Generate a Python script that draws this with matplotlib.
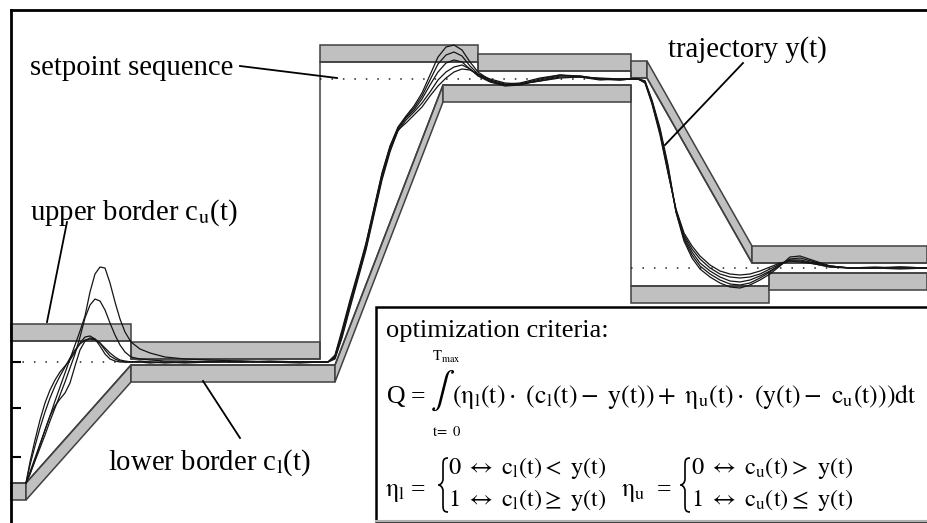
import matplotlib.pyplot as plt
from matplotlib.patches import Rectangle, PathPatch
from matplotlib.path import Path

plt.rcParams['font.family'] = ['Liberation Serif', 'DejaVu Serif']
plt.rcParams['mathtext.fontset'] = 'stix'
plt.rcParams['mathtext.default'] = 'rm'

# tolerance borders: breakpoints (time, level); repeated times are steps
upper_t = [11, 131, 131, 320, 320, 478, 478, 631, 631, 647, 752, 927]
upper_c = [341, 341, 359, 359, 62, 62, 71, 71, 78, 78, 263, 263]
lower_t = [11, 26, 131, 335, 443, 631, 631, 769, 769, 927]
lower_c = [483, 483, 365, 365, 85, 85, 286, 286, 273, 273]

# setpoint sequence
setpoint_start = [11, 320, 631]
setpoint_end = [320, 631, 927]
setpoint_level = [362, 79, 268]

tick_levels = [362, 408, 457]

# sampled trajectories y(t) of five optimisation runs
t = [26, 30, 35, 40, 45, 50, 55, 60, 65, 70, 75, 80, 85, 90, 95, 100, 105, 110,
     115, 120, 125, 131, 140, 150, 165, 185, 210, 240, 270, 300, 320,
     328, 335, 342, 350, 358, 366, 374, 382, 390, 398, 406, 414, 422, 430, 438,
     446, 454, 462, 470, 478, 490, 505, 520, 540, 560, 580, 600, 620, 631,
     638, 645, 652, 660, 668, 676, 684, 692, 700, 710, 720, 730, 740, 750, 760,
     770, 780, 790, 800, 815, 830, 850, 875, 900, 927]
y_run1 = [483, 472, 458, 444, 430, 416, 401, 387, 373, 359, 345, 331, 316, 292, 274, 267, 268, 283,
          302, 319, 332, 342, 349, 353, 357, 359, 360, 361, 362, 362, 362,
          362, 355, 330, 300, 272, 243, 208, 173, 146, 127, 116, 106, 93, 75, 57,
          47, 45, 50, 62, 72, 80, 84, 83, 78, 75, 76, 79, 80, 79,
          79, 81, 100, 128, 165, 212, 241, 258, 269, 277, 283, 287, 288, 285, 280,
          274, 266, 257, 256, 261, 266, 268, 268, 267, 268]
y_run2 = [483, 474, 461, 448, 435, 421, 408, 395, 382, 368, 354, 337, 318, 305, 299, 301, 310, 323,
          335, 345, 352, 357, 359, 360, 361, 361, 362, 362, 362, 362, 362,
          362, 356, 332, 302, 274, 244, 209, 174, 147, 128, 117, 108, 96, 80, 64,
          55, 52, 56, 66, 74, 81, 85, 84, 79, 75, 77, 80, 79, 79,
          79, 81, 101, 130, 167, 212, 239, 255, 266, 274, 280, 284, 285, 283, 278,
          272, 265, 259, 258, 262, 266, 268, 268, 268, 268]
y_run3 = [483, 462, 440, 420, 403, 390, 380, 372, 366, 360, 352, 343, 337, 336, 339, 346, 354, 359,
          361, 362, 362, 362, 362, 362, 363, 362, 362, 361, 362, 362, 362,
          362, 357, 334, 304, 275, 246, 211, 176, 148, 129, 118, 110, 99, 85, 72,
          63, 60, 62, 69, 76, 82, 86, 85, 80, 76, 76, 79, 80, 79,
          79, 82, 102, 131, 170, 211, 237, 252, 263, 271, 277, 281, 282, 280, 276,
          271, 265, 260, 260, 263, 266, 268, 267, 268, 268]
y_run4 = [483, 465, 446, 428, 412, 398, 386, 376, 367, 358, 350, 344, 340, 339, 340, 343, 348, 353,
          357, 360, 361, 362, 361, 362, 362, 363, 362, 362, 361, 362, 362,
          362, 358, 336, 306, 277, 248, 213, 178, 150, 131, 120, 112, 103, 92, 80,
          72, 67, 65, 69, 75, 81, 85, 84, 81, 77, 77, 79, 79, 79,
          79, 82, 103, 133, 172, 210, 235, 249, 259, 268, 274, 277, 278, 277, 274,
          269, 264, 261, 261, 264, 267, 268, 268, 269, 268]
y_run5 = [483, 474, 460, 445, 430, 416, 406, 399, 393, 383, 366, 350, 341, 338, 339, 343, 350, 356,
          359, 361, 362, 362, 362, 363, 362, 362, 361, 362, 362, 363, 362,
          362, 359, 338, 308, 279, 250, 215, 180, 152, 130, 123, 115, 107, 96, 86,
          78, 72, 69, 70, 74, 79, 83, 84, 81, 78, 77, 78, 79, 79,
          79, 83, 104, 135, 173, 209, 233, 246, 256, 265, 271, 274, 275, 274, 271,
          267, 263, 261, 262, 264, 267, 268, 268, 267, 268]

BAND_FILL = '#c0c0c0'
BAND_EDGE = '#404040'
BAND_WIDTH = 17


def draw_band(ax, ts, cs, offset):
    # one filled strip per piece of the border, the border line itself on top
    for i in range(len(ts) - 1):
        if ts[i + 1] == ts[i]:
            continue
        xs = [ts[i], ts[i + 1], ts[i + 1], ts[i]]
        ys = [cs[i], cs[i + 1], cs[i + 1] + offset, cs[i] + offset]
        ax.fill(xs, ys, facecolor=BAND_FILL, edgecolor=BAND_EDGE, lw=1.1, zorder=2)
    ax.plot(ts, cs, color=BAND_EDGE, lw=1.1, zorder=2)


def draw_brace(ax, x, top, bottom, w=5):
    # left curly brace spanning top..bottom (y grows downwards)
    mid = (top + bottom) / 2
    verts = [(x + w, top), (x, top), (x, top + 3), (x, top + 8),
             (x, mid - 6),
             (x, mid - 2), (x - 0.6 * w, mid), (x - 0.9 * w, mid),
             (x - 0.6 * w, mid), (x, mid + 2), (x, mid + 6),
             (x, bottom - 8),
             (x, bottom - 3), (x, bottom), (x + w, bottom)]
    codes = [Path.MOVETO, Path.CURVE4, Path.CURVE4, Path.CURVE4,
             Path.LINETO,
             Path.CURVE4, Path.CURVE4, Path.CURVE4,
             Path.CURVE4, Path.CURVE4, Path.CURVE4,
             Path.LINETO,
             Path.CURVE4, Path.CURVE4, Path.CURVE4]
    ax.add_patch(PathPatch(Path(verts, codes), facecolor='none', edgecolor='black',
                           lw=1.2, zorder=8))


fig = plt.figure(figsize=(9.27, 5.23), dpi=100)
ax = fig.add_axes([0, 0, 1, 1])
ax.set_xlim(0, 927)
ax.set_ylim(523, 0)
ax.axis('off')

draw_band(ax, upper_t, upper_c, -BAND_WIDTH)
draw_band(ax, lower_t, lower_c, BAND_WIDTH)

ax.hlines(setpoint_level, setpoint_start, setpoint_end, colors='#222222',
          linestyles=(0, (1, 6.5)), lw=1.1, zorder=3)

for run in [y_run1, y_run2, y_run3, y_run4, y_run5]:
    ax.plot(t, run, color='#151515', lw=0.9, zorder=4)

# frame and ticks
ax.plot([11, 11], [10, 523], color='black', lw=2, zorder=5)
ax.plot([11, 927], [10, 10], color='black', lw=2, zorder=5)
ax.hlines(tick_levels, 11, 21, colors='black', lw=1.5, zorder=5)

# labels with leader lines
label_kw = dict(fontsize=20.7, color='black', zorder=6)
ax.text(30, 75, 'setpoint sequence', va='baseline', **label_kw)
ax.plot([240, 337], [66, 78], color='black', lw=1.3, zorder=5)
ax.text(30, 220, 'upper border c$_\\mathrm{u}$(t)', va='baseline', **label_kw)
ax.plot([67, 47], [222, 322], color='black', lw=1.3, zorder=5)
ax.text(108, 470, 'lower border c$_\\mathrm{l}$(t)', va='baseline', **label_kw)
ax.plot([240, 203], [438, 381], color='black', lw=1.3, zorder=5)
ax.text(668, 57, 'trajectory y(t)', va='baseline', **label_kw)
ax.plot([743, 665], [63, 145], color='black', lw=1.3, zorder=5)

# criteria box
ax.add_patch(Rectangle((376, 307), 560, 214, facecolor='white', edgecolor='black',
                       lw=1.8, zorder=7))
ax.plot([376, 927], [521, 521], color='#b0b0b0', lw=1.5, zorder=8)
ax.text(386, 337, 'optimization criteria:', fontsize=19, va='baseline', zorder=8)

fs = 18.5
ax.text(387, 403, 'Q', fontsize=fs, va='baseline', zorder=8)
ax.text(411, 403, '=', fontsize=fs, va='baseline', zorder=8)
ax.text(432, 361, r'$T_{\mathrm{max}}$', fontsize=10.5, va='baseline', zorder=8)
ax.text(432, 436, r'$t\!=\ 0$', fontsize=10.5, va='baseline', zorder=8)
ax.text(430, 400, r'$\int$', fontsize=26, va='baseline', zorder=8)
ax.text(452, 403,
        r'$\left(\eta_l(t)\cdot\ \left(c_l(t)-\ y(t)\right)+\ \eta_u(t)\cdot\ \left(y(t)-\ c_u(t)\right)\right)dt$',
        fontsize=fs, va='baseline', zorder=8)

fr = 17.5
ax.text(385, 496, r'$\eta_l$', fontsize=fs, va='baseline', zorder=8)
ax.text(411, 496, '=', fontsize=fs, va='baseline', zorder=8)
draw_brace(ax, 443, 458, 512)
ax.text(448, 474, r'$0\ \leftrightarrow\ c_l(t)<\ y(t)$', fontsize=fr, va='baseline', zorder=8)
ax.text(448, 506, r'$1\ \leftrightarrow\ c_l(t)\geq\ y(t)$', fontsize=fr, va='baseline', zorder=8)

ax.text(621, 496, r'$\eta_u$', fontsize=fs, va='baseline', zorder=8)
ax.text(657, 496, '=', fontsize=fs, va='baseline', zorder=8)
draw_brace(ax, 685, 458, 512)
ax.text(691, 474, r'$0\ \leftrightarrow\ c_u(t)>\ y(t)$', fontsize=fr, va='baseline', zorder=8)
ax.text(691, 506, r'$1\ \leftrightarrow\ c_u(t)\leq\ y(t)$', fontsize=fr, va='baseline', zorder=8)

fig.savefig('out.png', dpi=100)
